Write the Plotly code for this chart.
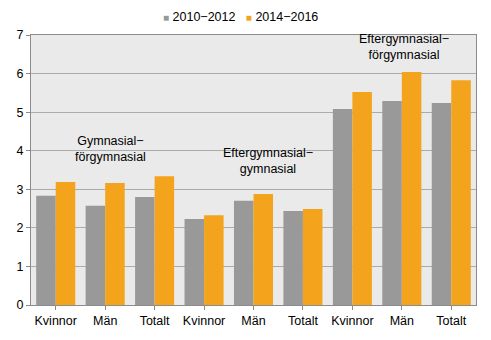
import plotly.graph_objects as go

categories = ["Kvinnor", "Män", "Totalt", "Kvinnor", "Män", "Totalt", "Kvinnor", "Män", "Totalt"]
series_names = ["2010−2012", "2014−2016"]
series_colors = ["#999999", "#F4A41C"]
values_2010_2012 = [2.83, 2.57, 2.80, 2.23, 2.70, 2.44, 5.08, 5.29, 5.24]
values_2014_2016 = [3.19, 3.16, 3.34, 2.33, 2.88, 2.49, 5.52, 6.04, 5.83]
group_labels = ["Gymnasial−<br>förgymnasial", "Eftergymnasial−<br>gymnasial", "Eftergymnasial−<br>förgymnasial"]
group_label_x = [1.1, 4.3, 7.05]
group_label_y = [3.6, 3.3, 6.25]
y_ticks = [0, 1, 2, 3, 4, 5, 6, 7]

xs = list(range(len(categories)))
FAM = "Liberation Sans, Arial, sans-serif"
font = dict(family=FAM, size=12.5, color="#000000")

fig = go.Figure()
fig.add_bar(x=xs, y=values_2010_2012, name=series_names[0], marker_color=series_colors[0],
            marker_line_width=0, showlegend=False)
fig.add_bar(x=xs, y=values_2014_2016, name=series_names[1], marker_color=series_colors[1],
            marker_line_width=0, showlegend=False)

for t, x, y in zip(group_labels, group_label_x, group_label_y):
    fig.add_annotation(x=x, y=y, text=t, showarrow=False, font=font, yanchor="bottom", xanchor="center")

# legend drawn as text with coloured squares
legend_text = "&nbsp;&nbsp;&nbsp;".join(
    f"<span style='color:{c};font-size:10px'>■</span>&nbsp;{n}" for n, c in zip(series_names, series_colors)
)
fig.add_annotation(x=0.47, y=1.0, xref="paper", yref="paper", text=legend_text, showarrow=False,
                   font=font, xanchor="center", yanchor="bottom", yshift=9)

fig.update_layout(
    width=491, height=340,
    margin=dict(l=31, r=15, t=35, b=35),
    paper_bgcolor="white", plot_bgcolor="#EAEAEA",
    barmode="group", bargap=0.21, bargroupgap=0,
    font=font,
)
fig.update_xaxes(
    tickmode="array", tickvals=xs, ticktext=categories, range=[-0.5, 8.5],
    showline=True, linecolor="#8C8C8C", linewidth=1, mirror=True,
    ticks="outside", ticklen=4, tickcolor="#8C8C8C", tickson="boundaries",
    showgrid=False, tickfont=font,
)
fig.update_yaxes(
    range=[0, 7], tickvals=y_ticks,
    showline=True, linecolor="#8C8C8C", linewidth=1, mirror=True,
    ticks="outside", ticklen=4, tickcolor="#8C8C8C",
    showgrid=True, gridcolor="#ABABAB", gridwidth=1, zeroline=False, tickfont=font,
)
fig.write_html("out.html")
